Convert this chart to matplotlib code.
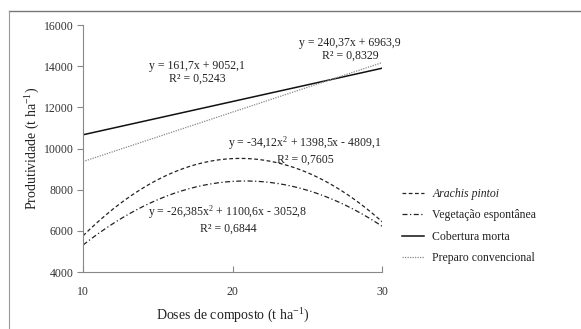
import numpy as np
import matplotlib
matplotlib.use("Agg")
import matplotlib.pyplot as plt
from matplotlib.lines import Line2D

plt.rcParams['font.family'] = ['Liberation Serif', 'DejaVu Serif']
plt.rcParams['mathtext.fontset'] = 'custom'
plt.rcParams['mathtext.rm'] = 'Liberation Serif'
plt.rcParams['mathtext.it'] = 'Liberation Serif:italic'

# doses de composto (t/ha)
doses = [10, 30]
# coeficientes das equações mostradas no gráfico (grau maior primeiro)
coef_arachis = [-34.12, 1398.5, -4809.1]
coef_vegetacao = [-26.385, 1100.6, -3052.8]
coef_cobertura = [161.7, 9052.1]
coef_preparo = [240.37, 6963.9]

series = ["Arachis pintoi", "Vegetação espontânea", "Cobertura morta", "Preparo convencional"]
eq_textos = [
    "y = -34,12x$^2$ + 1398,5x - 4809,1\nR² = 0,7605",
    "y = -26,385x$^2$ + 1100,6x - 3052,8\nR² = 0,6844",
    "y = 161,7x + 9052,1\nR² = 0,5243",
    "y = 240,37x + 6963,9\nR² = 0,8329",
]

x = np.linspace(doses[0], doses[1], 200)

fig = plt.figure(figsize=(5.81, 3.29), dpi=100)
ax = fig.add_axes([0.143, 0.173, 0.515, 0.751])

ax.plot(x, np.polyval(coef_arachis, x), color='#222222', lw=0.9, ls=(0, (3, 2)), label=series[0])
ax.plot(x, np.polyval(coef_vegetacao, x), color='#222222', lw=0.9, ls=(0, (4, 2, 1, 2)), label=series[1])
ax.plot(x, np.polyval(coef_cobertura, x), color='#111111', lw=1.1, ls='-', label=series[2])
ax.plot(x, np.polyval(coef_preparo, x), color='#888888', lw=0.9, ls=(0, (1, 1)), label=series[3])

# equações (posições em pixels da figura)
fig.text(305 / 581, 1 - 150 / 329, eq_textos[0], ha='center', va='center', fontsize=8.5, color='#222222', linespacing=1.1)
fig.text(228 / 581, 1 - 219 / 329, eq_textos[1], ha='center', va='center', fontsize=8.5, color='#222222', linespacing=1.1)
fig.text(197 / 581, 1 - 72 / 329, eq_textos[2], ha='center', va='center', fontsize=8.5, color='#222222', linespacing=1.1)
fig.text(350 / 581, 1 - 49 / 329, eq_textos[3], ha='center', va='center', fontsize=8.5, color='#222222', linespacing=1.1)

ax.set_xlim(10, 30)
ax.set_ylim(4000, 16000)
ax.set_xticks([10, 20, 30])
ax.set_yticks(np.arange(4000, 16001, 2000))
ax.tick_params(axis='y', direction='out', length=4, color='#888888', labelsize=8.5, labelcolor='#333333', pad=3)
ax.tick_params(axis='x', direction='in', length=4, color='#888888', labelsize=8.5, labelcolor='#333333', pad=10)
for s in ['top', 'right']:
    ax.spines[s].set_visible(False)
for s in ['left', 'bottom']:
    ax.spines[s].set_color('#888888')
    ax.spines[s].set_linewidth(0.8)

ax.set_xlabel("Doses de composto (t ha$^{-1}$)", fontsize=10, color='#222222', labelpad=6)
ax.set_ylabel("Produtividade (t ha$^{-1}$)", fontsize=10, color='#222222', labelpad=1)

leg = ax.legend(loc='center left', bbox_to_anchor=(1.031, 0.186), frameon=False, fontsize=8.5,
                handlelength=1.86, handletextpad=0.68, labelspacing=0.8)
leg.get_texts()[0].set_fontstyle('italic')
for t in leg.get_texts():
    t.set_color('#222222')

# moldura da figura
fig.add_artist(Line2D([9 / 581, 1], [1 - 11 / 329, 1 - 11 / 329], transform=fig.transFigure, color='#777777', lw=1))
fig.add_artist(Line2D([9 / 581, 9 / 581], [0, 1 - 11 / 329], transform=fig.transFigure, color='#999999', lw=0.8))

fig.savefig("out.png", dpi=100)
